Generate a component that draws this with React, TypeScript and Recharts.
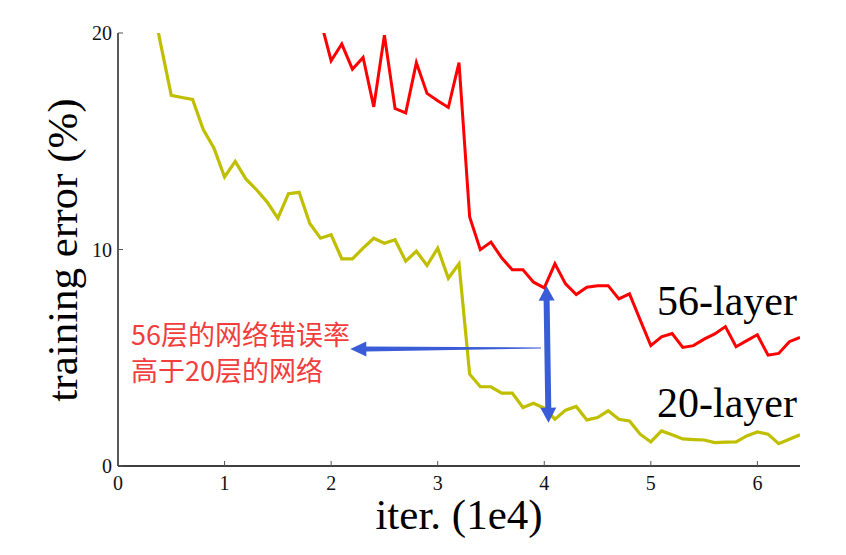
import { Line, LineChart, ReferenceLine, XAxis, YAxis } from "recharts";

// iterations (1e4) and training error (%)
const iters20 = [
  0.3, 0.4, 0.5, 0.6, 0.7, 0.8, 0.9, 1.0, 1.1, 1.2, 1.3, 1.4, 1.5, 1.6, 1.7,
  1.8, 1.9, 2.0, 2.1, 2.2, 2.3, 2.4, 2.5, 2.6, 2.7, 2.8, 2.9, 3.0, 3.1, 3.2,
  3.3, 3.4, 3.5, 3.6, 3.7, 3.8, 3.9, 4.0, 4.1, 4.2, 4.3, 4.4, 4.5, 4.6, 4.7,
  4.8, 4.9, 5.0, 5.1, 5.2, 5.3, 5.4, 5.5, 5.6, 5.7, 5.8, 5.9, 6.0, 6.1, 6.2,
  6.3, 6.4,
];
const err20 = [
  22.0, 19.5, 17.12, 17.02, 16.93, 15.54, 14.69, 13.35, 14.07, 13.26, 12.76,
  12.19, 11.45, 12.58, 12.64, 11.2, 10.52, 10.68, 9.57, 9.57, 10.06, 10.52,
  10.29, 10.45, 9.46, 9.92, 9.26, 10.06, 8.67, 9.34, 4.24, 3.66, 3.66, 3.37,
  3.37, 2.7, 2.9, 2.67, 2.16, 2.58, 2.75, 2.13, 2.24, 2.55, 2.16, 2.08, 1.47,
  1.11, 1.62, 1.44, 1.25, 1.22, 1.2, 1.08, 1.1, 1.11, 1.39, 1.57, 1.47, 1.03,
  1.24, 1.44,
];

const iters56 = [
  1.9, 2.0, 2.1, 2.2, 2.3, 2.4, 2.5, 2.6, 2.7, 2.8, 2.9, 3.0, 3.1, 3.2, 3.3,
  3.4, 3.5, 3.6, 3.7, 3.8, 3.9, 4.0, 4.1, 4.2, 4.3, 4.4, 4.5, 4.6, 4.7, 4.8,
  4.9, 5.0, 5.1, 5.2, 5.3, 5.4, 5.5, 5.6, 5.7, 5.8, 5.9, 6.0, 6.1, 6.2, 6.3,
  6.4,
];
const err56 = [
  20.6, 18.72, 19.49, 18.33, 18.87, 16.59, 19.9, 16.51, 16.31, 18.63, 17.21,
  16.87, 16.56, 18.63, 11.5, 9.99, 10.34, 9.62, 9.06, 9.06, 8.49, 8.23, 9.34,
  8.41, 7.92, 8.26, 8.33, 8.33, 7.72, 7.95, 6.75, 5.56, 5.97, 6.12, 5.48,
  5.56, 5.86, 6.1, 6.44, 5.51, 5.79, 6.06, 5.12, 5.2, 5.74, 5.94,
];

const xTicks = [0, 1, 2, 3, 4, 5, 6];
const yTicks = [0, 10, 20];

const data20 = iters20.map((iter, i) => ({ iter, err: err20[i] }));
const data56 = iters56.map((iter, i) => ({ iter, err: err56[i] }));

const SERIF = '"Liberation Serif", "Times New Roman", serif';
const CJK = '"Noto Sans CJK SC", "Noto Sans", sans-serif';
const BLUE = "#3a5cd6";

function XTick({ x, y, payload }: any) {
  return (
    <g>
      <line x1={x} x2={x} y1={y} y2={y - 5} stroke="#555" strokeWidth={1} />
      <text x={x} y={y + 24} textAnchor="middle" fontFamily={SERIF} fontSize={20} fill="#111">
        {payload.value}
      </text>
    </g>
  );
}

function YTick({ x, y, payload }: any) {
  return (
    <g>
      <line x1={x} x2={x + 5} y1={y} y2={y} stroke="#555" strokeWidth={1} />
      <text x={x - 6} y={y + 7} textAnchor="end" fontFamily={SERIF} fontSize={20} fill="#111">
        {payload.value}
      </text>
    </g>
  );
}

// tapered single arrow, head at the second segment point
function TaperArrow({ x1, y1, x2, y2 }: any) {
  const len = Math.hypot(x2 - x1, y2 - y1) || 1;
  const dx = (x2 - x1) / len;
  const dy = (y2 - y1) / len;
  const nx = -dy;
  const ny = dx;
  const head = 16;
  const bx = x2 - dx * head;
  const by = y2 - dy * head;
  const pts = [
    [x1 + nx * 0.5, y1 + ny * 0.5],
    [bx + nx * 2.4, by + ny * 2.4],
    [bx + nx * 7.5, by + ny * 7.5],
    [x2, y2],
    [bx - nx * 7.5, by - ny * 7.5],
    [bx - nx * 2.4, by - ny * 2.4],
    [x1 - nx * 0.5, y1 - ny * 0.5],
  ];
  return <polygon points={pts.map((p) => p.join(",")).join(" ")} fill={BLUE} />;
}

// double-headed arrow between the two segment points
function DoubleArrow({ x1, y1, x2, y2 }: any) {
  const len = Math.hypot(x2 - x1, y2 - y1) || 1;
  const dx = (x2 - x1) / len;
  const dy = (y2 - y1) / len;
  const nx = -dy;
  const ny = dx;
  const head = 15;
  const hw = 8;
  const sw = 3;
  const ax = x1 + dx * head;
  const ay = y1 + dy * head;
  const bx = x2 - dx * head;
  const by = y2 - dy * head;
  const pts = [
    [x1, y1],
    [ax + nx * hw, ay + ny * hw],
    [ax + nx * sw, ay + ny * sw],
    [bx + nx * sw, by + ny * sw],
    [bx + nx * hw, by + ny * hw],
    [x2, y2],
    [bx - nx * hw, by - ny * hw],
    [bx - nx * sw, by - ny * sw],
    [ax - nx * sw, ay - ny * sw],
    [ax - nx * hw, ay - ny * hw],
  ];
  return <polygon points={pts.map((p) => p.join(",")).join(" ")} fill={BLUE} />;
}

export default function App() {
  return (
    <div style={{ position: "absolute", left: 0, top: 0, width: 846, height: 555, background: "#fff" }}>
      <LineChart width={846} height={555} margin={{ top: 33, right: 46, left: 18, bottom: 0 }}>
        <XAxis
          dataKey="iter"
          type="number"
          domain={[0, 6.4]}
          ticks={xTicks}
          height={89}
          axisLine={{ stroke: "#000", strokeWidth: 1.3 }}
          tickLine={false}
          tickSize={0}
          tickMargin={0}
          tick={<XTick />}
          allowDataOverflow
        />
        <YAxis
          type="number"
          domain={[0, 20]}
          ticks={yTicks}
          width={100}
          axisLine={{ stroke: "#000", strokeWidth: 1.3 }}
          tickLine={false}
          tickSize={0}
          tickMargin={0}
          tick={<YTick />}
          allowDataOverflow
        />
        <Line
          data={data20}
          dataKey="err"
          type="linear"
          stroke="#bfbf00"
          strokeWidth={3.2}
          dot={false}
          activeDot={false}
          isAnimationActive={false}
        />
        <Line
          data={data56}
          dataKey="err"
          type="linear"
          stroke="#ff0000"
          strokeWidth={3}
          dot={false}
          activeDot={false}
          isAnimationActive={false}
        />
        <ReferenceLine
          segment={[
            { x: 3.97, y: 5.45 },
            { x: 2.18, y: 5.4 },
          ]}
          shape={(p: any) => <TaperArrow {...p} />}
        />
        <ReferenceLine
          segment={[
            { x: 4.02, y: 8.33 },
            { x: 4.04, y: 2.0 },
          ]}
          shape={(p: any) => <DoubleArrow {...p} />}
        />
      </LineChart>
      <svg
        width={846}
        height={555}
        style={{ position: "absolute", left: 0, top: 0, pointerEvents: "none" }}
      >
        <text
          x={77}
          y={250}
          transform="rotate(-90 77 250)"
          textAnchor="middle"
          fontFamily={SERIF}
          fontSize={43}
          fill="#000"
        >
          training error (%)
        </text>
        <text x={459} y={529} textAnchor="middle" fontFamily={SERIF} fontSize={43} fill="#000">
          iter. (1e4)
        </text>
        <text x={797} y={315} textAnchor="end" fontFamily={SERIF} fontSize={42} fill="#000">
          56-layer
        </text>
        <text x={797} y={417} textAnchor="end" fontFamily={SERIF} fontSize={42} fill="#000">
          20-layer
        </text>
        <text x={131} y={345} fontFamily={CJK} fontSize={27} fill="#f23d3d">
          56层的网络错误率
        </text>
        <text x={131} y={381} fontFamily={CJK} fontSize={27} fill="#f23d3d">
          高于20层的网络
        </text>
      </svg>
    </div>
  );
}
